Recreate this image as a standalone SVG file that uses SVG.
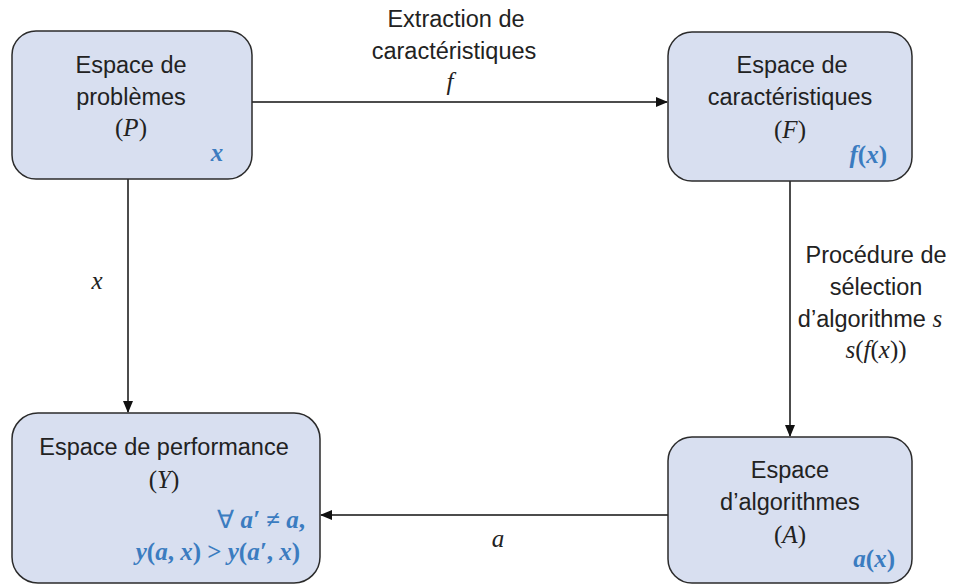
<svg xmlns="http://www.w3.org/2000/svg" width="954" height="585" viewBox="0 0 954 585">
<style>
.box{fill:#d8dff0;stroke:#2b2b2b;stroke-width:1.5}
.t{font-family:"Liberation Sans",Arial,sans-serif;font-size:23.5px;fill:#222;text-anchor:middle}
.m{font-family:"Liberation Serif","Times New Roman",serif;font-size:25px;fill:#222}
.b{font-family:"Liberation Serif","Times New Roman",serif;font-weight:bold;font-size:25px;fill:#3b7cc0}
.i{font-style:italic}
.c{stroke:#111;stroke-width:1.5;fill:none}
</style>
<defs>
<marker id="ah" markerWidth="12" markerHeight="10" refX="11" refY="5" orient="auto" markerUnits="userSpaceOnUse">
<path d="M0,0 L12,5 L0,10 Z" fill="#111"/>
</marker>
</defs>
<rect width="954" height="585" fill="#fff"/>
<g id="connectors">
<line class="c" x1="252" y1="102" x2="667" y2="102" marker-end="url(#ah)"/>
<line class="c" x1="128" y1="179" x2="128" y2="412" marker-end="url(#ah)"/>
<line class="c" x1="790" y1="181" x2="790" y2="436" marker-end="url(#ah)"/>
<line class="c" x1="668" y1="515" x2="321" y2="515" marker-end="url(#ah)"/>
<text class="t" x="456" y="27">Extraction de</text>
<text class="t" x="454" y="59">caractéristiques</text>
<text class="m i" x="450" y="90" text-anchor="middle">f</text>
<text class="m i" x="97" y="289" text-anchor="middle">x</text>
<text class="t" x="876" y="263">Procédure de</text>
<text class="t" x="876" y="295">sélection</text>
<text class="t" x="870" y="327">d’algorithme <tspan style="font-family:'Liberation Serif',serif;font-style:italic;font-size:25px">s</tspan></text>
<text class="m" x="876" y="358" text-anchor="middle"><tspan class="i">s</tspan>(<tspan class="i">f</tspan>(<tspan class="i">x</tspan>))</text>
<text class="m i" x="498" y="547" text-anchor="middle">a</text>
</g>
<g id="node-P">
<rect class="box" x="12" y="31" width="240" height="148" rx="24"/>
<text class="t" x="131" y="73">Espace de</text>
<text class="t" x="131" y="105">problèmes</text>
<text class="m" x="131" y="136" text-anchor="middle">(<tspan class="i">P</tspan>)</text>
<text class="b i" x="217" y="161" text-anchor="middle">x</text>
</g>
<g id="node-F">
<rect class="box" x="668" y="32" width="244" height="149" rx="24"/>
<text class="t" x="792" y="73">Espace de</text>
<text class="t" x="790" y="105">caractéristiques</text>
<text class="m" x="790" y="138" text-anchor="middle">(<tspan class="i">F</tspan>)</text>
<text class="b" x="887" y="163" text-anchor="end"><tspan class="i">f</tspan>(<tspan class="i">x</tspan>)</text>
</g>
<g id="node-Y">
<rect class="box" x="12" y="413" width="308" height="170" rx="26"/>
<text class="t" x="164" y="455">Espace de performance</text>
<text class="m" x="164" y="488" text-anchor="middle">(<tspan class="i">Y</tspan>)</text>
<text class="b" x="305" y="528" text-anchor="end"><tspan font-weight="normal">∀</tspan>  <tspan class="i">a′</tspan> ≠ <tspan class="i">a</tspan>,</text>
<text class="b" x="300" y="560" text-anchor="end"><tspan class="i">y</tspan>(<tspan class="i">a</tspan>, <tspan class="i">x</tspan>) &gt; <tspan class="i">y</tspan>(<tspan class="i">a′</tspan>, <tspan class="i">x</tspan>)</text>
</g>
<g id="node-A">
<rect class="box" x="668" y="437" width="244" height="146" rx="24"/>
<text class="t" x="790" y="478">Espace</text>
<text class="t" x="790" y="510">d’algorithmes</text>
<text class="m" x="790" y="543" text-anchor="middle">(<tspan class="i">A</tspan>)</text>
<text class="b" x="895" y="567" text-anchor="end"><tspan class="i">a</tspan>(<tspan class="i">x</tspan>)</text>
</g>
</svg>
